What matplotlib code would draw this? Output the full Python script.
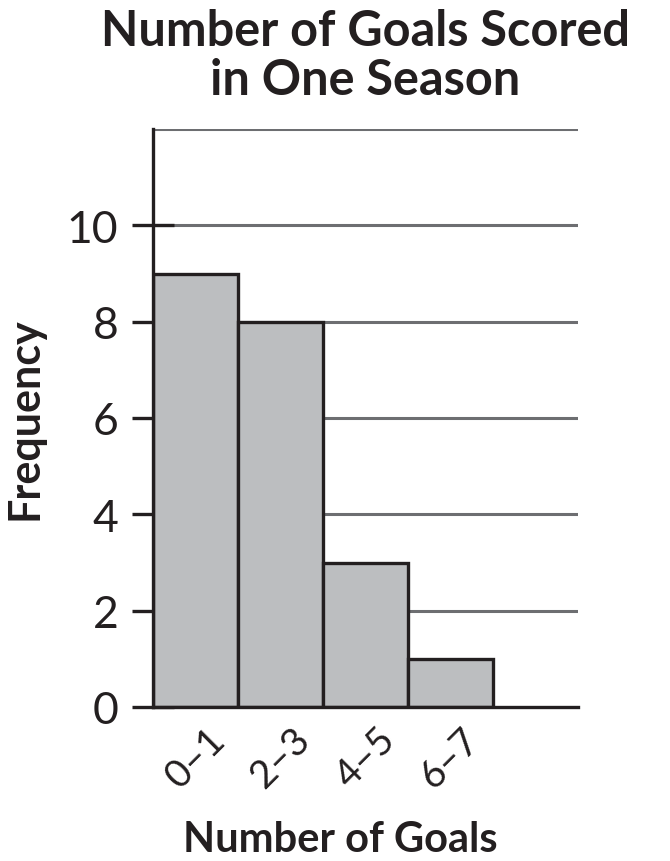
import matplotlib.pyplot as plt

# histogram data
bins = ["0–1", "2–3", "4–5", "6–7"]
freq = [9, 8, 3, 1]
yticks = [0, 2, 4, 6, 8, 10]

plt.rcParams['font.family'] = ['Lato', 'DejaVu Sans']

fig = plt.figure(figsize=(6.7, 8.62), dpi=100)
ax = fig.add_axes([153 / 670, 1 - 708 / 862, 425 / 670, 578 / 862])

# gray gridlines behind bars
for g in range(2, 13, 2):
    ax.axhline(g, color='#6d6e71', lw=2.2, zorder=1)

pos = list(range(len(bins)))
ax.bar(pos, freq, width=1.0, align='edge', color='#bcbec0',
       edgecolor='#231f20', linewidth=2.4, zorder=3)

ax.set_xlim(0, 5)
ax.set_ylim(0, 12)

ax.spines['top'].set_visible(False)
ax.spines['right'].set_visible(False)
for s in ['left', 'bottom']:
    ax.spines[s].set_linewidth(2.4)
    ax.spines[s].set_color('#231f20')
    ax.spines[s].set_zorder(4)

ax.set_yticks(yticks)
ax.tick_params(axis='y', direction='inout', length=30, width=2.4,
               color='#231f20', labelsize=32, pad=10, labelcolor='#231f20')

ax.set_xticks([p + 0.5 for p in pos])
ax.set_xticklabels(bins, rotation=45, ha='center', va='top',
                   fontsize=28, color='#231f20')
ax.tick_params(axis='x', length=0, pad=10)

ax.set_ylabel('Frequency', fontsize=31, fontweight='bold', color='#231f20', labelpad=16)
ax.set_xlabel('Number of Goals', fontsize=30, fontweight='bold', color='#231f20')
ax.xaxis.set_label_coords(0.44, -0.195)

fig.text(0.545, 0.99, 'Number of Goals Scored\nin One Season', ha='center', va='top',
         fontsize=35, fontweight='bold', color='#231f20', linespacing=1.12)

plt.savefig('out.png')
